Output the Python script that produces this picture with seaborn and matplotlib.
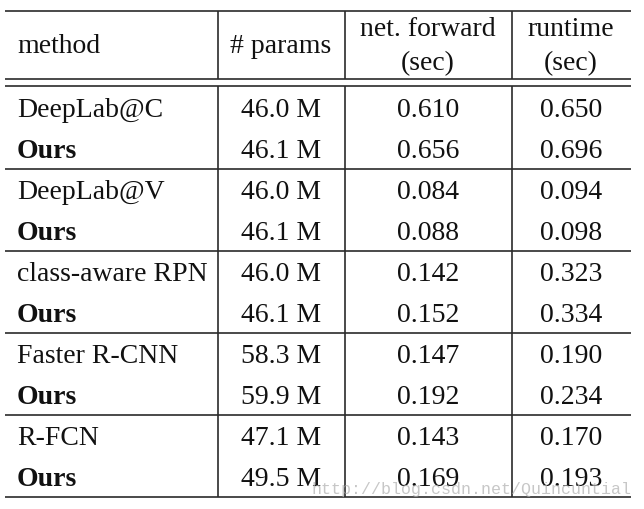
import matplotlib
matplotlib.use("Agg")
import matplotlib.pyplot as plt
import seaborn as sns

# table content
methods = ["DeepLab@C", "Ours", "DeepLab@V", "Ours", "class-aware RPN", "Ours",
           "Faster R-CNN", "Ours", "R-FCN", "Ours"]
params = ["46.0 M", "46.1 M", "46.0 M", "46.1 M", "46.0 M", "46.1 M",
          "58.3 M", "59.9 M", "47.1 M", "49.5 M"]
net_forward = [0.610, 0.656, 0.084, 0.088, 0.142, 0.152, 0.147, 0.192, 0.143, 0.169]
runtime = [0.650, 0.696, 0.094, 0.098, 0.323, 0.334, 0.190, 0.234, 0.170, 0.193]
headers = ["method", "# params", "net. forward\n(sec)", "runtime\n(sec)"]
watermark = "http://blog.csdn.net/Quincuntial"

sns.set_theme(style="white")
plt.rcParams['font.family'] = ['Liberation Serif', 'DejaVu Serif']

fig = plt.figure(figsize=(6.44, 5.10), dpi=100)
ax = fig.add_axes([0, 0, 1, 1])
ax.set_xlim(0, 644)
ax.set_ylim(510, 0)
ax.axis("off")

line_kw = dict(color="#2b2b2b", lw=1.2)
left, right = 5, 631
col_edges = [218, 345, 512]
col_centers = [281, 428, 571]
text_x = 17
fs = 20
tc = "#111111"

# horizontal rules
ax.hlines([12, 80, 87], left, right, **line_kw)
row_y0, row_h = 108, 41
n = len(methods)
seps = [row_y0 - row_h / 2 + row_h * 2 * g for g in range(1, n // 2 + 1)]
ax.hlines(seps, left, right, **line_kw)
bottom = seps[-1]
# vertical rules (broken by double line)
ax.vlines(col_edges, 12, 80, **line_kw)
ax.vlines(col_edges, 87, bottom, **line_kw)

# header
ax.text(text_x, 53, headers[0], fontsize=fs, ha="left", va="baseline", color=tc)
ax.text(col_centers[0], 53, headers[1], fontsize=fs, ha="center", va="baseline", color=tc)
for cx, h in zip(col_centers[1:], headers[2:]):
    top, bot = h.split("\n")
    ax.text(cx, 36, top, fontsize=fs, ha="center", va="baseline", color=tc)
    ax.text(cx, 70, bot, fontsize=fs, ha="center", va="baseline", color=tc)

# body
for i, (m, p, f, r) in enumerate(zip(methods, params, net_forward, runtime)):
    base = row_y0 + row_h * i + 9
    ax.text(text_x, base, m, fontsize=fs, ha="left", va="baseline", color=tc,
            fontweight="bold" if m == "Ours" else "normal")
    ax.text(col_centers[0], base, p, fontsize=fs, ha="center", va="baseline", color=tc)
    ax.text(col_centers[1], base, f"{f:.3f}", fontsize=fs, ha="center", va="baseline", color=tc)
    ax.text(col_centers[2], base, f"{r:.3f}", fontsize=fs, ha="center", va="baseline", color=tc)

# blog watermark laid over the bottom row, as in the source image
ax.text(632, 494, watermark, fontsize=12, ha="right", va="baseline",
        family="Liberation Mono", color="#b0b0b0", alpha=0.7)

fig.savefig("out.png", dpi=100, facecolor="white")
